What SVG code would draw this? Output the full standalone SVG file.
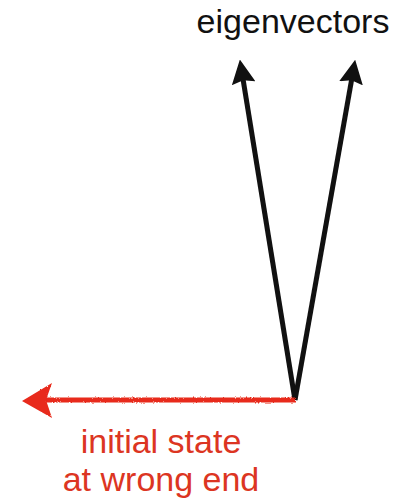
<svg xmlns="http://www.w3.org/2000/svg" width="412" height="502" viewBox="0 0 412 502">
  <style>
    .lbl { font-family: "Liberation Sans", Arial, Helvetica, sans-serif; font-size: 34px; text-anchor: middle; }
    .black { fill: #111111; }
    .red { fill: #dc3522; }
    .vec { stroke: #111111; stroke-width: 5; fill: none; }
    .init { stroke: #e8291b; stroke-width: 5; fill: none; }
  </style>
  <defs>
    <marker id="blackHead" markerUnits="userSpaceOnUse" viewBox="0 0 24 24" refX="15" refY="12" markerWidth="24" markerHeight="24" orient="auto">
      <path d="M0,0 L24,12 L0,24 L3,12 z" fill="#111111"/>
    </marker>
    <filter id="rough" x="-5%" y="-50%" width="110%" height="200%">
      <feTurbulence type="fractalNoise" baseFrequency="0.6" numOctaves="2" seed="3"/>
      <feDisplacementMap in="SourceGraphic" scale="2.5"/>
    </filter>
  </defs>
  <rect width="412" height="502" fill="#ffffff"/>
  <g id="connectors">
    <path id="eigvec1" class="vec" d="M295,400 L241.3,68.5" marker-end="url(#blackHead)"/>
    <path id="eigvec2" class="vec" d="M295,400 L353.6,68.5" marker-end="url(#blackHead)"/>
    <g id="initial-arrow" filter="url(#rough)">
      <path class="init" d="M296,400 L46,400"/>
      <path d="M22,401 L52,383 L46,400 L52,418 z" fill="#e8291b"/>
    </g>
  </g>
  <g id="label-eigenvectors">
    <text class="lbl black" x="293" y="33">eigenvectors</text>
  </g>
  <g id="label-initial">
    <text class="lbl red" x="161" y="453">initial state</text>
    <text class="lbl red" x="161" y="491">at wrong end</text>
  </g>
</svg>
